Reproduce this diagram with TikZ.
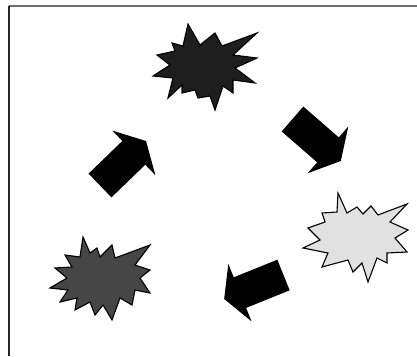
\documentclass[tikz,border=0pt]{standalone}
\usepackage{tikz}
\usetikzlibrary{arrows.meta}
\definecolor{frameGray}{RGB}{110,110,110}
\definecolor{burstDark}{RGB}{30,30,30}
\definecolor{burstMid}{RGB}{70,70,70}
\definecolor{burstLight}{RGB}{225,225,225}
\tikzset{
  burst/.style      = {draw=black, line width=1.1pt, line join=miter},
  framearr/.style   = {line width=1.6pt},
  blockarrow/.pic   = {\fill[black] (0,-16.5) -- (47,-16.5) -- (47,-31) -- (64,0)
                       -- (47,31) -- (47,16.5) -- (0,16.5) -- cycle;}
}

\begin{document}
\begin{tikzpicture}[x=1pt,y=-1pt]
\useasboundingbox (0,0) rectangle (417,356);
\fill[white] (0,0) rectangle (417,356);
% frame
\draw[framearr,frameGray] (9,6) -- (417,6);
\draw[framearr,black!85] (9,6) -- (9,356);
% top burst
\filldraw[burst,fill=burstDark] (188,24) -- (200,45) -- (215,33) -- (222,46) -- (257,33)
  -- (233,55) -- (257,58) -- (235,68) -- (255,83) -- (233,80) -- (233,93) -- (223,86)
  -- (215,110) -- (210,96) -- (198,98) -- (195,90) -- (182,93) -- (182,85) -- (168,98)
  -- (173,78) -- (153,76) -- (170,65) -- (157,55) -- (175,51) -- (172,43) -- (183,46) -- cycle;
% right burst
\filldraw[burst,fill=burstLight] (338,193) -- (347,213) -- (357,207) -- (363,214) -- (371,206)
  -- (378,215) -- (407,204) -- (390,222) -- (408,230) -- (395,238) -- (407,252) -- (387,253)
  -- (387,263) -- (377,258) -- (368,282) -- (362,263) -- (353,272) -- (348,260) -- (322,267)
  -- (328,253) -- (303,248) -- (320,240) -- (308,228) -- (325,222) -- (322,213) -- (337,212) -- cycle;
% bottom left burst
\filldraw[burst,fill=burstMid] (83,237) -- (90,253) -- (97,248) -- (100,257) -- (112,245)
  -- (115,258) -- (150,245) -- (135,265) -- (150,270) -- (140,278) -- (150,293) -- (135,290)
  -- (132,305) -- (120,298) -- (112,320) -- (103,305) -- (95,315) -- (90,302) -- (75,310)
  -- (77,298) -- (60,302) -- (68,290) -- (50,288) -- (67,278) -- (55,268) -- (72,267)
  -- (65,255) -- (80,257) -- cycle;
% arrows
\pic[rotate=44]  at (100,185.5) {blockarrow};
\pic[rotate=-41] at (292.5,119) {blockarrow};
\pic[rotate=202] at (283.5,275) {blockarrow};
\end{tikzpicture}
\end{document}
